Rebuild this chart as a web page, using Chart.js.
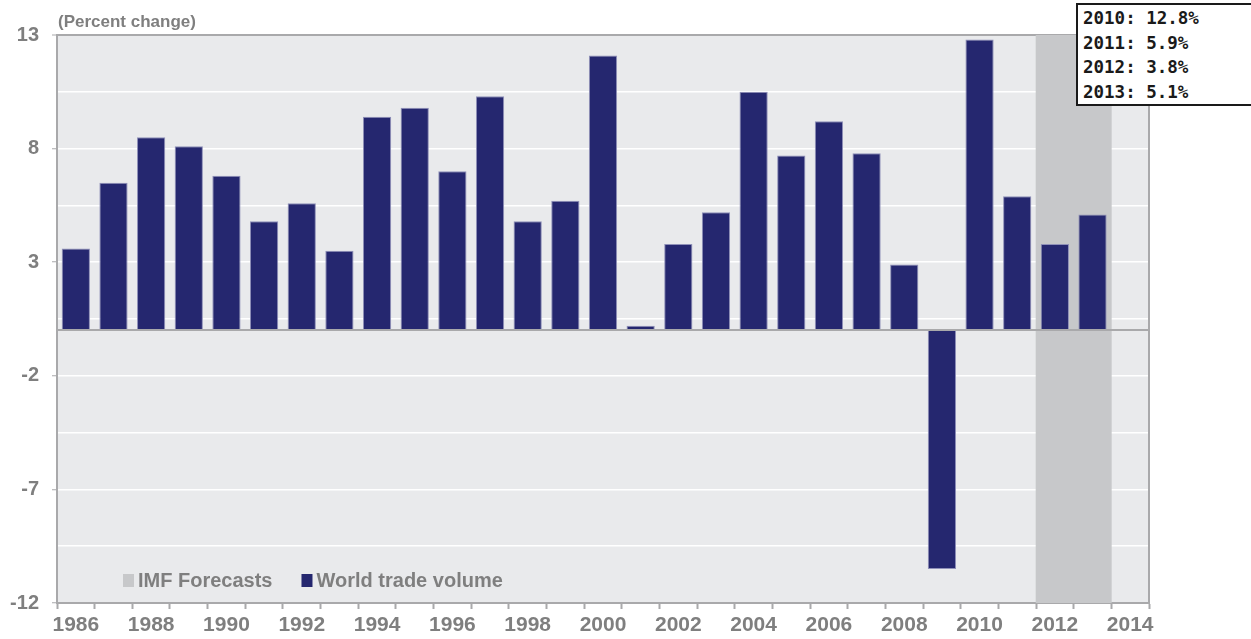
<!DOCTYPE html>
<html>
<head>
<meta charset="utf-8">
<script src="https://cdn.jsdelivr.net/npm/chart.js@4.4.1/dist/chart.umd.min.js"></script>
<style>
  body { margin: 0; background: #fff; }
  #wrap { position: relative; width: 1251px; height: 639px; }
  #callout {
    position: absolute; left: 1076px; top: 3px; width: 190px;
    background: #fff; border: 2px solid #1a1a1a;
    font-family: "DejaVu Sans Mono", monospace; font-weight: bold;
    font-size: 17.5px; line-height: 24.6px; color: #1a1a1a;
    padding: 1px 0 0 5px;
  }
</style>
</head>
<body>
<div id="wrap">
  <canvas id="output"></canvas>
  <div id="callout">2010: 12.8%<br>2011: 5.9%<br>2012: 3.8%<br>2013: 5.1%</div>
</div>
<script>
// years on the x axis (2014 is an empty slot at the end)
const years = ['1986','1987','1988','1989','1990','1991','1992','1993','1994','1995',
  '1996','1997','1998','1999','2000','2001','2002','2003','2004','2005',
  '2006','2007','2008','2009','2010','2011','2012','2013','2014'];

// world trade volume, percent change
const tradeVolume = [3.6, 6.5, 8.5, 8.1, 6.8, 4.8, 5.6, 3.5, 9.4, 9.8,
  7.0, 10.3, 4.8, 5.7, 12.1, 0.2, 3.8, 5.2, 10.5, 7.7,
  9.2, 7.8, 2.9, -10.5, 12.8, 5.9, 3.8, 5.1, null];

// forecast years, shaded across the whole y range
const forecastYears = ['2012', '2013'];
const forecastRange = [-12, 13];

const yMin = -12, yMax = 13, yStep = 2.5;

const grey = '#a9a9ab';
const labelGrey = '#7f7f7f';
const navy = '#25276f';
const shade = '#c7c8ca';

// gray zero line, right frame edge, y title and the in-plot legend
const extras = {
  id: 'extras',
  afterDatasetsDraw(chart) {
    const { ctx, chartArea: a, scales: { y } } = chart;
    ctx.save();
    ctx.strokeStyle = grey;
    ctx.lineWidth = 2;
    const y0 = Math.round(y.getPixelForValue(0));
    ctx.beginPath();
    ctx.moveTo(a.left, y0);
    ctx.lineTo(a.right, y0);
    ctx.stroke();
    ctx.beginPath();
    ctx.moveTo(a.right, a.top);
    ctx.lineTo(a.right, a.bottom);
    ctx.stroke();
    ctx.restore();
  },
  afterDraw(chart) {
    const { ctx, chartArea: a } = chart;
    ctx.save();
    ctx.fillStyle = labelGrey;
    ctx.font = 'bold 17px "Liberation Sans", Arial, sans-serif';
    ctx.textBaseline = 'middle';
    ctx.fillText('(Percent change)', a.left + 1, a.top - 13);

    // legend
    ctx.font = 'bold 20px "Liberation Sans", Arial, sans-serif';
    let x = a.left + 66;
    const ly = a.bottom - 23;
    chart.data.datasets.slice().reverse().forEach(ds => {
      ctx.fillStyle = ds.backgroundColor;
      ctx.fillRect(x, ly - 6, 11, 13);
      ctx.fillStyle = labelGrey;
      ctx.fillText(ds.label, x + 15, ly + 1);
      x += 15 + ctx.measureText(ds.label).width + 29;
    });
    ctx.restore();
  }
};

const chart = new Chart(document.getElementById('output'), {
  type: 'bar',
  data: {
    labels: years,
    datasets: [{
      label: 'World trade volume',
      data: tradeVolume,
      backgroundColor: navy,
      borderColor: '#8f90b8',
      borderWidth: 1,
      barPercentage: 0.75,
      categoryPercentage: 1,
      grouped: false,
      order: 1
    }, {
      label: 'IMF Forecasts',
      data: forecastYears.map(yr => ({ x: yr, y: forecastRange })),
      backgroundColor: shade,
      barPercentage: 1,
      categoryPercentage: 1,
      grouped: false,
      order: 2
    }]
  },
  options: {
    responsive: true,
    maintainAspectRatio: false,
    animation: false,
    layout: { padding: { top: 35, right: 102, left: 0, bottom: 0 } },
    plugins: {
      legend: { display: false },
      tooltip: { enabled: false }
    },
    scales: {
      x: {
        offset: true,
        grid: {
          offset: true,
          drawOnChartArea: false,
          color: grey,
          tickColor: grey,
          tickLength: 6,
          tickWidth: 2
        },
        border: { color: grey, width: 2 },
        ticks: {
          autoSkip: false,
          maxRotation: 0,
          padding: 4,
          color: labelGrey,
          font: { family: '"Liberation Sans", Arial, sans-serif', size: 21, weight: 'bold' },
          callback: (v, i) => i % 2 === 0 ? years[i] : ''
        },
        afterFit: s => { s.height = 36; }
      },
      y: {
        min: yMin,
        max: yMax,
        grid: {
          color: c => c.tick && c.tick.value === yMax ? grey : '#ffffff',
          lineWidth: c => c.tick && c.tick.value === yMax ? 2 : 1.5,
          tickColor: c => c.index % 2 === 0 ? grey : 'rgba(0,0,0,0)',
          tickLength: 5,
          tickWidth: 1
        },
        border: { color: grey, width: 2 },
        ticks: {
          stepSize: yStep,
          padding: 13,
          color: labelGrey,
          font: { family: '"Liberation Sans", Arial, sans-serif', size: 20, weight: 'bold' },
          callback: (v, i) => i % 2 === 0 ? v : ''
        },
        afterFit: s => { s.width = 57; }
      }
    }
  },
  plugins: [extras, {
    id: 'plotBg',
    beforeDraw(chart) {
      const { ctx, chartArea: a } = chart;
      ctx.save();
      ctx.fillStyle = '#e9eaec';
      ctx.fillRect(a.left, a.top, a.right - a.left, a.bottom - a.top);
      ctx.restore();
    }
  }]
});
</script>
</body>
</html>
